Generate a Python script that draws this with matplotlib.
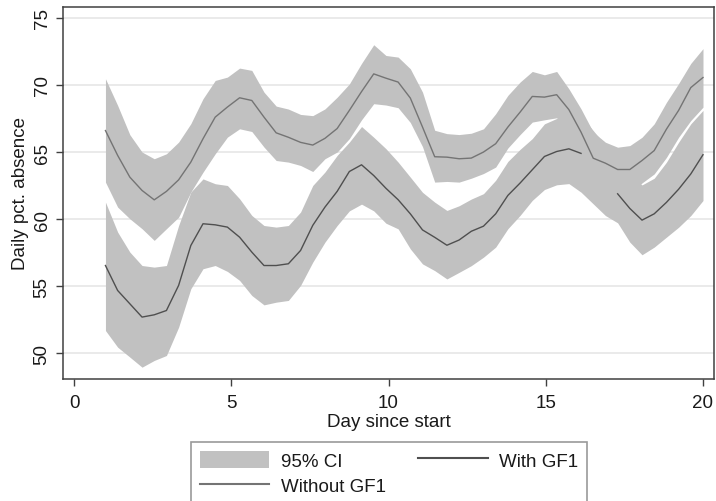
import numpy as np
import matplotlib
matplotlib.use("Agg")
import matplotlib.pyplot as plt
from matplotlib.patches import Patch
from matplotlib.lines import Line2D

plt.rcParams['font.family'] = ['Liberation Sans', 'DejaVu Sans']

day = np.linspace(1, 20, 50)

without_mean = [66.6, 64.75, 63.13, 62.14, 61.44, 62.07, 62.93, 64.25, 65.99, 67.60,
                68.35, 69.04, 68.84, 67.60, 66.43, 66.1, 65.72, 65.52, 66.02, 66.75,
                68.1, 69.5, 70.82, 70.5, 70.21, 69.02, 66.86, 64.65, 64.62, 64.5,
                64.55, 65.0, 65.62, 66.86, 67.97, 69.14, 69.09, 69.27, 68.16, 66.48,
                64.54, 64.17, 63.7, 63.7, 64.37, 65.11, 66.7, 68.1, 69.8, 70.55]
without_hi = [70.46, 68.47, 66.29, 65.0, 64.5, 64.87, 65.74, 67.11, 68.97, 70.33,
              70.58, 71.25, 71.08, 69.46, 68.42, 68.2, 67.8, 67.71, 68.21, 69.08,
              70.07, 71.6, 72.99, 72.19, 72.07, 71.2, 69.46, 66.62, 66.37, 66.3,
              66.4, 66.73, 67.85, 69.22, 70.21, 71.0, 70.75, 71.0, 69.71, 68.21,
              66.48, 65.73, 65.36, 65.48, 66.1, 67.1, 68.7, 70.1, 71.6, 72.7]
without_lo = [62.76, 60.9, 60.03, 59.29, 58.42, 59.29, 60.15, 62.02, 63.5, 64.87,
              66.11, 66.73, 66.53, 65.37, 64.37, 64.25, 64.0, 63.55, 64.5, 65.0,
              66.0, 67.4, 68.6, 68.5, 68.3, 67.2, 65.4, 62.76, 62.81, 62.76,
              63.05, 63.4, 63.88, 65.3, 66.3, 67.23, 67.4, 67.55, 66.6, 64.75,
              62.6, 62.6, 62.04, 61.92, 62.7, 63.37, 64.6, 66.1, 67.35, 68.34]

with_mean = [56.55, 54.69, 53.70, 52.71, 52.88, 53.2, 55.07, 58.04, 59.66, 59.58,
             59.41, 58.66, 57.55, 56.55, 56.55, 56.68, 57.67, 59.54, 60.9, 62.07,
             63.55, 64.05, 63.25, 62.3, 61.45, 60.4, 59.2, 58.65, 58.06, 58.45,
             59.1, 59.48, 60.4, 61.77, 62.69, 63.68, 64.67, 65.04, 65.24, 64.9,
             np.nan, np.nan, 61.89, 60.8, 59.93, 60.4, 61.25, 62.23, 63.37, 64.8]
with_hi = [61.27, 59.04, 57.55, 56.55, 56.43, 56.55, 59.53, 62.02, 63.0, 62.64,
           62.51, 61.52, 60.28, 59.53, 59.41, 59.53, 60.53, 62.51, 63.51, 64.75,
           65.74, 66.9, 66.1, 65.25, 64.25, 63.13, 62.0, 61.27, 60.65, 61.0,
           61.5, 61.9, 62.9, 64.3, 65.2, 66.0, 67.1, 67.5, 67.85, 67.7,
           66.6, 65.5, 64.05, 63.35, 62.55, 63.05, 64.24, 65.73, 67.1, 68.1]
with_lo = [51.71, 50.47, 49.73, 48.98, 49.48, 49.85, 51.96, 54.82, 56.31, 56.55,
           56.11, 55.44, 54.32, 53.62, 53.82, 53.95, 55.07, 56.8, 58.29, 59.53,
           60.62, 61.12, 60.62, 59.7, 59.28, 57.79, 56.67, 56.17, 55.55, 56.04,
           56.54, 57.17, 57.92, 59.29, 60.28, 61.4, 62.21, 62.56, 62.65, 62.01,
           61.14, 60.27, 59.73, 58.29, 57.35, 57.92, 58.66, 59.4, 60.27, 61.39]

xticks = [0, 5, 10, 15, 20]
yticks = [50, 55, 60, 65, 70, 75]
legend_labels = ["95% CI", "With GF1", "Without GF1"]

band_color = '#c1c1c1'
with_color = '#4f4f4f'
without_color = '#747474'

W, H = 716, 502
fig = plt.figure(figsize=(W / 100, H / 100), dpi=100)
ax = fig.add_axes([63 / W, 1 - 380 / H, (714 - 63) / W, (380 - 8) / H])

ax.fill_between(day, without_lo, without_hi, color=band_color, lw=0, zorder=2)
ax.fill_between(day, with_lo, with_hi, color=band_color, lw=0, zorder=2)
ax.plot(day, with_mean, color=with_color, lw=1.0, zorder=3)
ax.plot(day, without_mean, color=without_color, lw=1.0, zorder=3)

ax.set_xlim(-0.35, 20.35)
ax.set_ylim(48.1, 75.8)
ax.set_xticks(xticks)
ax.set_yticks(yticks)
ax.yaxis.grid(True, color='#e4e4e4', lw=1.1)
ax.set_axisbelow(True)

for s in ax.spines.values():
    s.set_color('#404040')
    s.set_linewidth(1.1)

fs = 13.5
ax.tick_params(axis='both', direction='out', length=5, width=1.0, color='#404040',
               labelsize=fs, labelcolor='#1a1a1a')
ax.tick_params(axis='x', pad=6)
ax.tick_params(axis='y', pad=4)
for lab in ax.get_yticklabels():
    lab.set_rotation(90)
    lab.set_va('center')
    lab.set_ha('right')

ax.set_xlabel("Day since start", fontsize=fs, color='#1a1a1a', labelpad=1)
ax.set_ylabel("Daily pct. absence", fontsize=fs, color='#1a1a1a', labelpad=3)

handles = [Patch(facecolor=band_color, edgecolor='none'),
           Line2D([], [], color=without_color, lw=1.5),
           Line2D([], [], color=with_color, lw=1.5)]
labels = [legend_labels[0], legend_labels[2], legend_labels[1]]
leg = fig.legend(handles, labels, ncol=2, loc='upper center',
                 bbox_to_anchor=(389 / W, 1 - 442.7 / H),
                 fontsize=fs, frameon=True, fancybox=False, shadow=False,
                 handlelength=3.7, handleheight=1.0, handletextpad=0.6,
                 columnspacing=1.75, labelspacing=0.35, borderpad=0.5,
                 borderaxespad=0)
leg.get_frame().set_edgecolor('#808080')
leg.get_frame().set_linewidth(1.2)
for t in leg.get_texts():
    t.set_color('#1a1a1a')

fig.savefig("out.png", dpi=100)
